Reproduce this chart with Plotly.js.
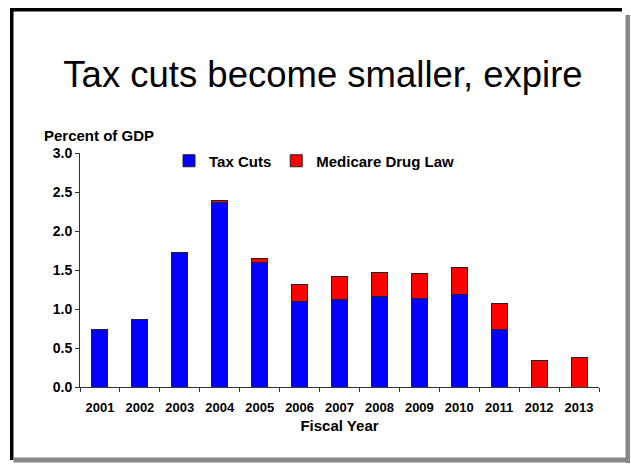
<!DOCTYPE html>
<html>
<head>
<meta charset="utf-8">
<script src="https://cdn.plot.ly/plotly-3.0.1.min.js"></script>
<style>html,body{margin:0;padding:0;background:#fff;}#chart{width:631px;height:465px;}</style>
</head>
<body>
<div id="chart"></div>
<script>
const years = ['2001','2002','2003','2004','2005','2006','2007','2008','2009','2010','2011','2012','2013'];
const taxCuts = [0.74, 0.86, 1.73, 2.36, 1.60, 1.09, 1.12, 1.16, 1.13, 1.19, 0.74, null, null];
const medicareDrugLaw = [null, null, null, 0.03, 0.05, 0.23, 0.30, 0.31, 0.33, 0.34, 0.33, 0.34, 0.38];
const yTicks = [0, 0.5, 1.0, 1.5, 2.0, 2.5, 3.0];

const W = 631, H = 465;
const M = {l: 80, r: 32, t: 153, b: 78};
const PW = W - M.l - M.r, PH = H - M.t - M.b;
const px = x => (x - M.l) / PW;
const py = y => (H - M.b - y) / PH;

const FONT = 'Liberation Sans, Arial, sans-serif';
const lineCol = '#333333';

const traces = [
  {type: 'bar', name: 'Tax Cuts', x: years, y: taxCuts,
   marker: {color: '#0000FF', line: {color: '#222222', width: 1}}},
  {type: 'bar', name: 'Medicare Drug Law', x: years, y: medicareDrugLaw,
   marker: {color: '#FF0000', line: {color: '#222222', width: 1}}}
];

const shapes = [
  // frame: black top and left, grey right and bottom
  {type: 'rect', xref: 'paper', yref: 'paper', x0: px(10), x1: px(622), y0: py(8), y1: py(11.5), fillcolor: '#000', line: {width: 0}, layer: 'below'},
  {type: 'rect', xref: 'paper', yref: 'paper', x0: px(10), x1: px(13.5), y0: py(8), y1: py(460), fillcolor: '#000', line: {width: 0}, layer: 'below'},
  {type: 'rect', xref: 'paper', yref: 'paper', x0: px(625.5), x1: px(630), y0: py(15), y1: py(463), fillcolor: '#888', line: {width: 0}, layer: 'below'},
  {type: 'rect', xref: 'paper', yref: 'paper', x0: px(13.5), x1: px(630), y0: py(457.5), y1: py(462.5), fillcolor: '#888', line: {width: 0}, layer: 'below'}
];

const layout = {
  width: W, height: H,
  margin: M,
  paper_bgcolor: '#fff', plot_bgcolor: 'rgba(0,0,0,0)',
  barmode: 'stack', bargap: 0.6,
  font: {family: FONT, color: '#000'},
  title: {text: 'Tax cuts become smaller, expire', font: {family: FONT, size: 36.5, color: '#000'},
          xref: 'container', x: 323 / W, xanchor: 'center', yref: 'container', y: 1 - 74 / H, yanchor: 'middle'},
  xaxis: {type: 'category', tickson: 'boundaries', ticks: 'outside', ticklen: 4, tickcolor: lineCol,
          showline: true, linecolor: lineCol, linewidth: 1, showgrid: false, zeroline: false,
          ticklabelstandoff: 8,
          tickfont: {family: FONT, size: 13, weight: 'bold', color: '#000'},
          title: {text: 'Fiscal Year', font: {family: FONT, size: 15, weight: 'bold', color: '#000'}, standoff: 6}},
  yaxis: {range: [0, 3], tickvals: yTicks, tickformat: '.1f', ticks: 'outside', ticklen: 4, tickcolor: lineCol,
          showline: true, linecolor: lineCol, linewidth: 1, showgrid: false, zeroline: false,
          tickfont: {family: FONT, size: 14, weight: 'bold', color: '#000'}},
  legend: {orientation: 'h', x: px(169), xanchor: 'left', y: py(161), yanchor: 'middle',
           font: {family: FONT, size: 15, weight: 'bold', color: '#000'}, bgcolor: 'rgba(0,0,0,0)', traceorder: 'normal'},
  annotations: [
    {text: 'Percent of GDP', xref: 'paper', yref: 'paper', x: px(42), y: py(135), xanchor: 'left', yanchor: 'middle',
     showarrow: false, font: {family: FONT, size: 15, weight: 'bold', color: '#000'}}
  ],
  shapes: shapes
};

Plotly.newPlot('chart', traces, layout, {displayModeBar: false, staticPlot: true});
</script>
</body>
</html>
